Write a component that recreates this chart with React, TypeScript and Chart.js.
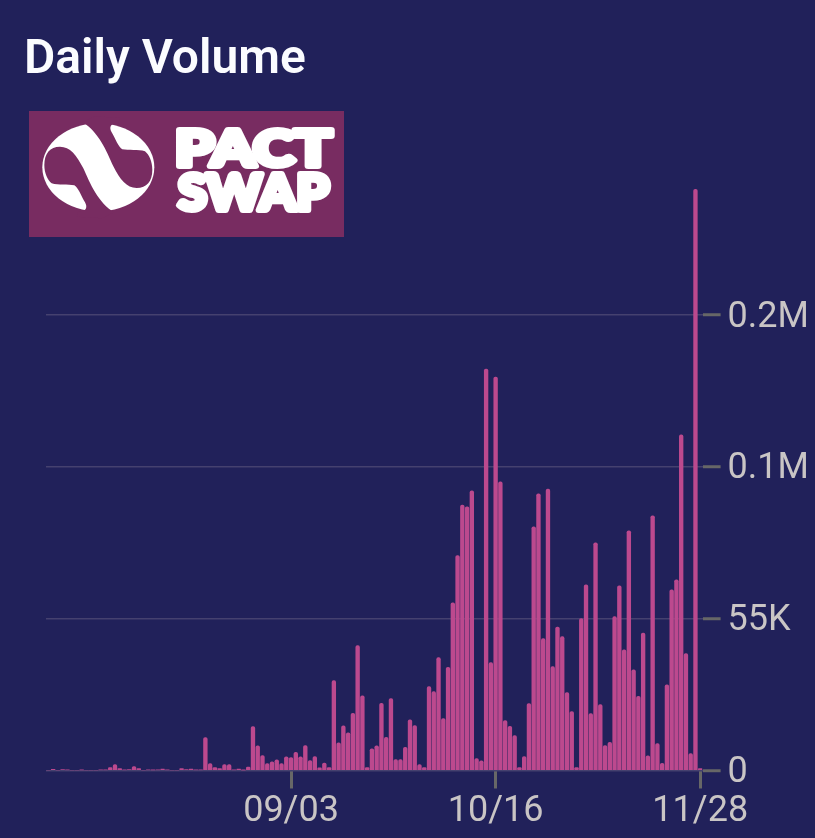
import React, { useEffect, useRef } from 'react';
import { Chart, registerables } from 'chart.js';

Chart.register(...registerables);

const PAGE_BG = '#21215a';
const BAR_COLOR = '#bc498e';

// one bar per day, 07/14 through 11/28
const startDate = new Date(2024, 6, 14);
const dailyVolume = [
  0, 430, 0, 360, 180, 0, 0, 110, 0, 0,
  0, 180, 180, 1090, 2170, 720, 180, 360, 1450, 720,
  0, 180, 110, 250, 470, 180, 0, 0, 720, 360,
  470, 180, 180, 11940, 2530, 1090, 720, 2170, 2170, 180,
  540, 70, 1270, 15920, 8940, 5430, 2530, 3150, 3870, 2530,
  4960, 4700, 6620, 4960, 9050, 3620, 5070, 980, 2710, 1090,
  32560, 10020, 16170, 13640, 20730, 45230, 27030, 1090, 7850, 8940,
  24350, 12050, 26050, 3980, 3980, 8430, 18340, 16280, 2170, 1090,
  30390, 28580, 40880, 18810, 37370, 60780, 77900, 96130, 95520, 101300,
  4340, 3510, 145440, 39070, 142550, 104560, 18090, 16030, 12660, 1090,
  5070, 24240, 88280, 100220, 47760, 101920, 37630, 51990, 48480, 28220,
  21350, 1090, 54990, 67290, 20620, 82490, 23880, 9050, 10240, 55720,
  66930, 43670, 86830, 36430, 26880, 49820, 5320, 92260, 9770, 2640,
  31010, 65490, 69100, 121560, 42330, 6150, 210560, 720,
];
const days = dailyVolume.map((_, i) => {
  const d = new Date(startDate.getTime());
  d.setDate(d.getDate() + i);
  return String(d.getMonth() + 1).padStart(2, '0') + '/' + String(d.getDate()).padStart(2, '0');
});
const xTickLabels = ['09/03', '10/16', '11/28'];
const yTickValues = [0, 55000, 110000, 165000];
const yTickLabels = ['0', '55K', '0.1M', '0.2M'];

function Logo() {
  const lobe =
    'M28 150 C28 115 45 95 75 95 C105 95 125 120 145 160 C165 205 190 265 238 292 L200 310 L125 305 L130 288 C150 292 160 280 150 262 C140 245 128 215 118 211 C100 207 70 212 50 205 C38 195 28 175 28 150 Z';
  const logoFont = { fontFamily: 'Lato', fontWeight: 900, fontSize: 50, fill: '#fff', stroke: '#fff', strokeWidth: 6, strokeLinejoin: 'round' as const };
  return (
    <svg
      width={315}
      height={126}
      viewBox="0 0 315 126"
      style={{ position: 'absolute', left: 29, top: 111, background: '#782c61' }}
    >
      <g transform="translate(6 4) scale(0.3333)">
        <ellipse cx={190} cy={157} rx={168} ry={132} fill="#fff" />
        <path d={lobe} fill="#782c61" />
        <path d={lobe} fill="#782c61" transform="rotate(180 190 157)" />
      </g>
      <text x={146} y={55} textLength={157} lengthAdjust="spacingAndGlyphs" {...logoFont}>
        PACT
      </text>
      <text x={149} y={99} textLength={151} lengthAdjust="spacingAndGlyphs" {...logoFont}>
        SWAP
      </text>
    </svg>
  );
}

export default function App() {
  const canvasRef = useRef<HTMLCanvasElement>(null);

  useEffect(() => {
    if (!canvasRef.current) return;
    const tickFont = { family: 'Roboto', size: 36 };
    const chart = new Chart(canvasRef.current, {
      type: 'bar',
      data: {
        labels: days,
        datasets: [
          {
            data: dailyVolume,
            backgroundColor: BAR_COLOR,
            barThickness: 3.7,
            borderRadius: { topLeft: 2, topRight: 2, bottomLeft: 0, bottomRight: 0 },
            borderSkipped: false,
          },
        ],
      },
      options: {
        animation: false,
        responsive: false,
        layout: { autoPadding: false, padding: { left: 46, top: 177, right: 0, bottom: 0 } },
        plugins: { legend: { display: false }, tooltip: { enabled: false } },
        scales: {
          x: {
            afterBuildTicks: (axis: any) => {
              axis.ticks = axis.ticks.filter((t: any) => xTickLabels.includes(days[t.value]));
            },
            afterFit: (axis: any) => {
              axis.height = 67.5;
            },
            grid: {
              offset: false,
              drawOnChartArea: false,
              tickColor: '#676767',
              tickLength: 18,
              tickWidth: 3,
            },
            border: { display: false },
            ticks: {
              autoSkip: false,
              maxRotation: 0,
              minRotation: 0,
              color: '#c9c5c5',
              font: tickFont,
              padding: 2,
              callback: (v: any) => days[v],
            },
          },
          y: {
            position: 'right',
            min: 0,
            max: 215000,
            afterBuildTicks: (axis: any) => {
              axis.ticks = yTickValues.map((value) => ({ value }));
            },
            afterFit: (axis: any) => {
              axis.width = 112.4;
            },
            grid: {
              color: '#45416f',
              lineWidth: 1.5,
              tickColor: '#676767',
              tickLength: 18,
              tickWidth: 3,
            },
            border: { display: false },
            ticks: {
              color: '#c9c5c5',
              font: tickFont,
              padding: 7,
              labelOffset: 2.5,
              callback: (v: any) => yTickLabels[yTickValues.indexOf(v)],
            },
          },
        },
      },
    });
    return () => chart.destroy();
  }, []);

  return (
    <div style={{ position: 'absolute', left: 0, top: 0, width: 815, height: 838, background: PAGE_BG, overflow: 'hidden' }}>
      <canvas ref={canvasRef} width={815} height={838} style={{ position: 'absolute', left: 0, top: 0 }} />
      <div
        style={{
          position: 'absolute',
          left: 24,
          top: 30,
          fontFamily: 'Roboto',
          fontWeight: 600,
          fontSize: 48,
          lineHeight: '54px',
          color: '#fbfcff',
          whiteSpace: 'nowrap',
        }}
      >
        Daily Volume
      </div>
      <Logo />
    </div>
  );
}
